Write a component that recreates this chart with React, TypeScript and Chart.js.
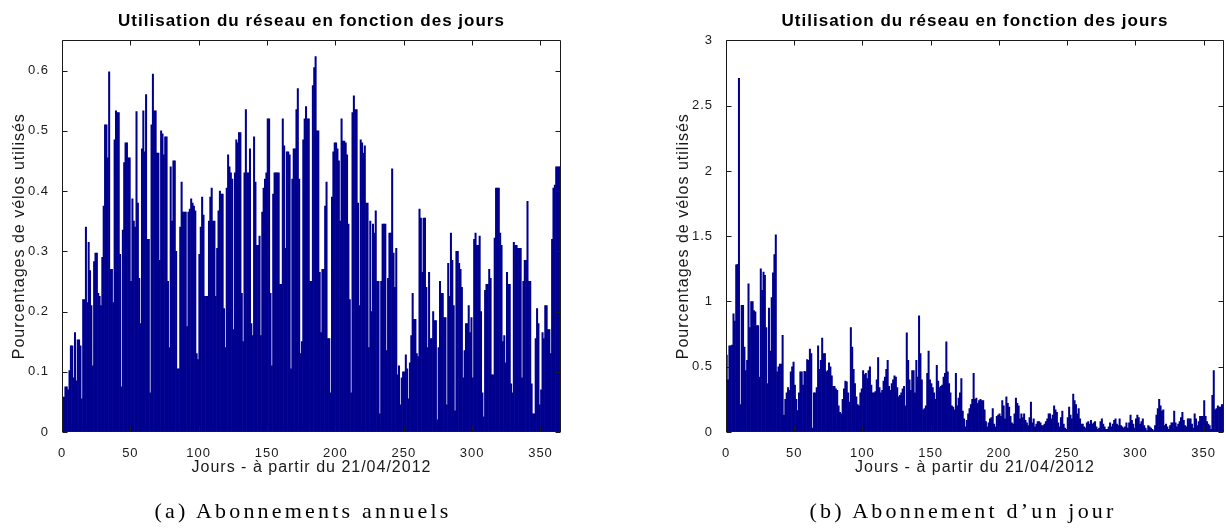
import React, { useEffect, useRef } from 'react';
import { Chart, registerables } from 'chart.js';

Chart.register(...registerables);

const CHART_TITLE = 'Utilisation du réseau en fonction des jours';
const X_AXIS_LABEL = 'Jours - à partir du 21/04/2012';
const Y_AXIS_LABEL = 'Pourcentages de vélos utilisés';
const CAPTION_A = '(a) Abonnements annuels';
const CAPTION_B = '(b) Abonnement d\u2019un jour';

const X_TICK_VALUES = [0, 50, 100, 150, 200, 250, 300, 350];
const DAY_COUNT = 365;

const ANNUAL_Y_TICKS = [0, 0.1, 0.2, 0.3, 0.4, 0.5, 0.6];
const ANNUAL_Y_MAX = 0.65;
const ONE_DAY_Y_TICKS = [0, 0.5, 1, 1.5, 2, 2.5, 3];
const ONE_DAY_Y_MAX = 3;

// (a) Abonnements annuels — one value per day (days 0..364)
const annualValues = [
  0.058, 0.058, 0.075, 0.075, 0.07, 0.102, 0.143, 0.143, 0.09, 0.165,
  0.085, 0.153, 0.153, 0.143, 0.055, 0.22, 0.22, 0.34, 0.215, 0.315,
  0.268, 0.21, 0.11, 0.283, 0.297, 0.297, 0.23, 0.225, 0.21, 0.29,
  0.375, 0.51, 0.51, 0.455, 0.598, 0.27, 0.27, 0.215, 0.485, 0.533,
  0.53, 0.53, 0.295, 0.075, 0.335, 0.447, 0.48, 0.48, 0.455, 0.455,
  0.25, 0.387, 0.35, 0.34, 0.532, 0.38, 0.255, 0.18, 0.47, 0.533,
  0.465, 0.56, 0.32, 0.32, 0.065, 0.51, 0.594, 0.533, 0.533, 0.463,
  0.463, 0.285, 0.5, 0.495, 0.46, 0.49, 0.49, 0.25, 0.14, 0.44,
  0.35, 0.45, 0.45, 0.3, 0.105, 0.105, 0.34, 0.415, 0.365, 0.365,
  0.365, 0.175, 0.365, 0.37, 0.387, 0.38, 0.375, 0.367, 0.13, 0.12,
  0.295, 0.34, 0.39, 0.36, 0.225, 0.225, 0.225, 0.35, 0.39, 0.405,
  0.35, 0.35, 0.225, 0.305, 0.367, 0.4, 0.395, 0.395, 0.205, 0.14,
  0.405, 0.46, 0.44, 0.43, 0.42, 0.17, 0.43, 0.485, 0.48, 0.497,
  0.497, 0.23, 0.15, 0.43, 0.535, 0.43, 0.43, 0.47, 0.18, 0.16,
  0.49, 0.415, 0.31, 0.31, 0.325, 0.16, 0.365, 0.405, 0.42, 0.43,
  0.52, 0.52, 0.23, 0.11, 0.395, 0.43, 0.43, 0.43, 0.43, 0.245,
  0.245, 0.52, 0.475, 0.305, 0.465, 0.465, 0.46, 0.105, 0.42, 0.47,
  0.47, 0.535, 0.57, 0.42, 0.13, 0.15, 0.485, 0.52, 0.54, 0.52,
  0.52, 0.25, 0.25, 0.575, 0.605, 0.623, 0.5, 0.5, 0.265, 0.165,
  0.27, 0.27, 0.375, 0.415, 0.155, 0.155, 0.065, 0.39, 0.465, 0.48,
  0.48, 0.47, 0.45, 0.35, 0.52, 0.483, 0.483, 0.48, 0.46, 0.345,
  0.22, 0.065, 0.53, 0.558, 0.535, 0.535, 0.38, 0.21, 0.485, 0.48,
  0.463, 0.475, 0.38, 0.38, 0.14, 0.35, 0.2, 0.345, 0.33, 0.367,
  0.25, 0.25, 0.03, 0.25, 0.345, 0.345, 0.345, 0.135, 0.255, 0.33,
  0.33, 0.437, 0.297, 0.24, 0.305, 0.095, 0.11, 0.045, 0.09, 0.1,
  0.1, 0.128, 0.105, 0.055, 0.115, 0.16, 0.23, 0.187, 0.187, 0.13,
  0.125, 0.37, 0.355, 0.265, 0.355, 0.355, 0.24, 0.14, 0.265, 0.155,
  0.155, 0.2, 0.185, 0.185, 0.02, 0.14, 0.25, 0.23, 0.23, 0.19,
  0.19, 0.045, 0.28, 0.225, 0.33, 0.285, 0.21, 0.035, 0.3, 0.3,
  0.28, 0.27, 0.24, 0.09, 0.135, 0.18, 0.18, 0.21, 0.165, 0.19,
  0.09, 0.32, 0.33, 0.31, 0.31, 0.325, 0.2, 0.065, 0.025, 0.235,
  0.245, 0.245, 0.27, 0.255, 0.095, 0.095, 0.322, 0.405, 0.405, 0.405,
  0.33, 0.31, 0.15, 0.16, 0.115, 0.265, 0.245, 0.245, 0.08, 0.065,
  0.315, 0.31, 0.31, 0.305, 0.305, 0.305, 0.09, 0.25, 0.285, 0.285,
  0.383, 0.25, 0.25, 0.08, 0.03, 0.03, 0.155, 0.205, 0.18, 0.045,
  0.07, 0.165, 0.155, 0.21, 0.21, 0.17, 0.17, 0.13, 0.32, 0.405,
  0.41, 0.44, 0.44, 0.44, 0.44,
];

// (b) Abonnement d'un jour — one value per day (days 0..364)
const oneDayValues = [
  0.59, 0.4, 0.66, 0.66, 0.665, 0.905, 0.85, 1.28, 1.285, 2.71,
  0.21, 0.97, 0.97, 0.65, 0.47, 0.55, 1.135, 0.8, 1.0, 1.0,
  0.93, 0.92, 0.815, 0.815, 0.42, 1.25, 1.085, 1.225, 1.2, 0.8,
  0.37, 0.95, 0.62, 1.03, 1.22, 1.36, 1.51, 0.46, 0.5, 0.52,
  0.52, 0.74, 0.13, 0.25, 0.3, 0.34, 0.32, 0.46, 0.5, 0.535,
  0.36, 0.25, 0.165, 0.3, 0.46, 0.46, 0.36, 0.465, 0.46, 0.555,
  0.55, 0.635, 0.6, 0.03, 0.3, 0.3, 0.34, 0.66, 0.48, 0.55,
  0.72, 0.6, 0.6, 0.46, 0.47, 0.53, 0.5, 0.43, 0.35, 0.35,
  0.33, 0.32, 0.2, 0.15, 0.14, 0.25, 0.33, 0.39, 0.385, 0.3,
  0.23, 0.8, 0.65, 0.48, 0.37, 0.27, 0.21, 0.2, 0.3, 0.33,
  0.47, 0.44, 0.45, 0.41, 0.47, 0.5, 0.36, 0.3, 0.3, 0.31,
  0.4, 0.57, 0.34, 0.3, 0.32, 0.39, 0.42, 0.48, 0.55, 0.35,
  0.32, 0.37, 0.4, 0.43, 0.42, 0.34, 0.27, 0.28, 0.3, 0.33,
  0.35, 0.2, 0.76, 0.55, 0.4, 0.32, 0.47, 0.47, 0.3, 0.55,
  0.42, 0.89, 0.6, 0.4, 0.17, 0.18, 0.2, 0.45, 0.62, 0.4,
  0.37, 0.34, 0.3, 0.25, 0.51, 0.39, 0.34, 0.35, 0.36, 0.42,
  0.45, 0.69, 0.46, 0.37, 0.3, 0.2, 0.19, 0.17, 0.45, 0.2,
  0.26, 0.3, 0.41, 0.16, 0.1, 0.04, 0.09, 0.14, 0.18, 0.21,
  0.25, 0.45, 0.25, 0.26, 0.22, 0.24, 0.25, 0.24, 0.24, 0.17,
  0.08, 0.04, 0.07, 0.1, 0.11, 0.18, 0.06, 0.04, 0.12, 0.13,
  0.14, 0.12, 0.24, 0.2, 0.1, 0.27, 0.22, 0.19, 0.12, 0.07,
  0.06, 0.14, 0.26, 0.22, 0.2, 0.1, 0.14, 0.11, 0.14, 0.09,
  0.07, 0.05, 0.11, 0.23, 0.07, 0.1, 0.04, 0.06, 0.08, 0.08,
  0.07, 0.05, 0.05, 0.06, 0.08, 0.1, 0.14, 0.14, 0.1, 0.13,
  0.2, 0.17, 0.15, 0.07, 0.04, 0.11, 0.16, 0.06, 0.03, 0.02,
  0.11, 0.19, 0.13, 0.1, 0.29, 0.24, 0.21, 0.14, 0.18, 0.1,
  0.06, 0.06, 0.04, 0.03, 0.07, 0.08, 0.06, 0.09, 0.06, 0.07,
  0.08, 0.04, 0.02, 0.03, 0.08, 0.1, 0.06, 0.04, 0.02, 0.02,
  0.04, 0.07, 0.04, 0.06, 0.09, 0.1, 0.06, 0.05, 0.1, 0.05,
  0.04, 0.03, 0.04, 0.07, 0.03, 0.07, 0.13, 0.09, 0.06, 0.03,
  0.1, 0.13, 0.11, 0.06, 0.08, 0.1, 0.05, 0.03, 0.01, 0.05,
  0.04, 0.03, 0.02, 0.01, 0.05, 0.13, 0.18, 0.25, 0.2, 0.16,
  0.17, 0.05, 0.06, 0.04, 0.02, 0.05, 0.07, 0.07, 0.16, 0.07,
  0.04, 0.06, 0.08, 0.11, 0.15, 0.09, 0.05, 0.04, 0.1, 0.1,
  0.1, 0.06, 0.03, 0.14, 0.1, 0.05, 0.08, 0.12, 0.12, 0.12,
  0.24, 0.12, 0.08, 0.06, 0.05, 0.02, 0.28, 0.47, 0.17, 0.18,
  0.2, 0.19, 0.19, 0.21, 0.21,
];

const BAR_COLOR = '#00008f';
const AXIS_COLOR = '#1a1a1a';
const SANS = "'Liberation Sans', Arial, Helvetica, sans-serif";
const SERIF = "'Liberation Serif', 'DejaVu Serif', serif";
const LETTER_SPACING = '1px';

const spacingPlugin = {
  id: 'letterSpacing',
  beforeUpdate(chart: any) {
    chart.ctx.letterSpacing = LETTER_SPACING;
  },
  beforeDraw(chart: any) {
    chart.ctx.letterSpacing = LETTER_SPACING;
  },
};

const boxPlugin = {
  id: 'matlabBox',
  afterDatasetsDraw(chart: any) {
    const { ctx, chartArea, scales } = chart;
    const { left, right, top, bottom } = chartArea;
    const L = Math.round(left) + 0.5;
    const R = Math.round(right) - 0.5;
    const T = Math.round(top) + 0.5;
    const B = Math.round(bottom) - 0.5;
    const len = 5;
    ctx.save();
    ctx.strokeStyle = AXIS_COLOR;
    ctx.lineWidth = 1;
    ctx.beginPath();
    ctx.rect(L, T, R - L, B - T);
    scales.x.ticks.forEach((t: any) => {
      const px = Math.round(scales.x.getPixelForValue(t.value)) + 0.5;
      ctx.moveTo(px, B);
      ctx.lineTo(px, B - len);
      ctx.moveTo(px, T);
      ctx.lineTo(px, T + len);
    });
    scales.y.ticks.forEach((t: any) => {
      const py = Math.round(scales.y.getPixelForValue(t.value)) + 0.5;
      ctx.moveTo(L, py);
      ctx.lineTo(L + len, py);
      ctx.moveTo(R, py);
      ctx.lineTo(R - len, py);
    });
    ctx.stroke();
    ctx.restore();
  },
};

type PanelProps = {
  values: number[];
  yMax: number;
  yTicks: number[];
  padLeft: number;
  padRight: number;
  left: number;
};

function BarPanel({ values, yMax, yTicks, padLeft, padRight, left }: PanelProps) {
  const ref = useRef<HTMLCanvasElement>(null);
  useEffect(() => {
    const chart = new Chart(ref.current as HTMLCanvasElement, {
      type: 'bar',
      data: {
        datasets: [
          {
            data: values.map((v, i) => ({ x: i + 0.5, y: v })),
            backgroundColor: BAR_COLOR,
            borderWidth: 0,
            barPercentage: 1,
            categoryPercentage: 1,
          } as any,
        ],
      },
      options: {
        animation: false,
        responsive: false,
        events: [],
        layout: { padding: { left: padLeft, right: padRight, top: 0, bottom: 48 } },
        plugins: {
          legend: { display: false },
          tooltip: { enabled: false },
          title: {
            display: true,
            text: CHART_TITLE,
            fullSize: false,
            color: '#000',
            font: { family: SANS, size: 17, weight: 'bold' },
            padding: { top: 11, bottom: 9 },
          },
        },
        scales: {
          x: {
            type: 'linear',
            min: 0,
            max: DAY_COUNT,
            offset: false,
            grid: { display: false, offset: false },
            border: { display: false },
            afterBuildTicks: (s: any) => {
              s.ticks = X_TICK_VALUES.map((value) => ({ value }));
            },
            afterFit: (s: any) => {
              s.height = 48;
            },
            ticks: {
              autoSkip: false,
              maxRotation: 0,
              padding: 6,
              color: AXIS_COLOR,
              font: { family: SANS, size: 13 },
              callback: (v: any) => String(v),
            },
            title: {
              display: true,
              text: X_AXIS_LABEL,
              color: AXIS_COLOR,
              font: { family: SANS, size: 16 },
              padding: { top: 0, bottom: 3 },
            },
          },
          y: {
            type: 'linear',
            min: 0,
            max: yMax,
            grid: { display: false },
            border: { display: false },
            afterBuildTicks: (s: any) => {
              s.ticks = yTicks.map((value) => ({ value }));
            },
            afterFit: (s: any) => {
              s.width = 56;
            },
            ticks: {
              padding: 5,
              color: AXIS_COLOR,
              font: { family: SANS, size: 13 },
              callback: (v: any) => String(v),
            },
            title: {
              display: true,
              text: Y_AXIS_LABEL,
              color: AXIS_COLOR,
              font: { family: SANS, size: 16 },
              padding: { top: 4, bottom: 0 },
            },
          },
        },
      } as any,
      plugins: [spacingPlugin, boxPlugin],
    });
    return () => chart.destroy();
  }, []);
  return (
    <canvas
      ref={ref}
      width={613}
      height={528}
      style={{ position: 'absolute', left, top: 0, width: 613, height: 528, display: 'block' }}
    />
  );
}

const captionStyle: React.CSSProperties = {
  position: 'absolute',
  top: 498,
  textAlign: 'center',
  fontFamily: SERIF,
  fontSize: 22,
  letterSpacing: '3.2px',
  color: '#000',
  whiteSpace: 'nowrap',
  lineHeight: '26px',
};

export default function App() {
  return (
    <div
      style={{
        position: 'fixed',
        left: 0,
        top: 0,
        width: 1226,
        height: 528,
        background: '#fff',
        overflow: 'hidden',
      }}
    >
      <BarPanel values={annualValues} yMax={ANNUAL_Y_MAX} yTicks={ANNUAL_Y_TICKS} padLeft={6} padRight={52} left={0} />
      <BarPanel values={oneDayValues} yMax={ONE_DAY_Y_MAX} yTicks={ONE_DAY_Y_TICKS} padLeft={57} padRight={2} left={613} />
      <div style={{ ...captionStyle, left: 0, width: 606 }}>{CAPTION_A}</div>
      <div style={{ ...captionStyle, left: 700, width: 526 }}>{CAPTION_B}</div>
    </div>
  );
}
